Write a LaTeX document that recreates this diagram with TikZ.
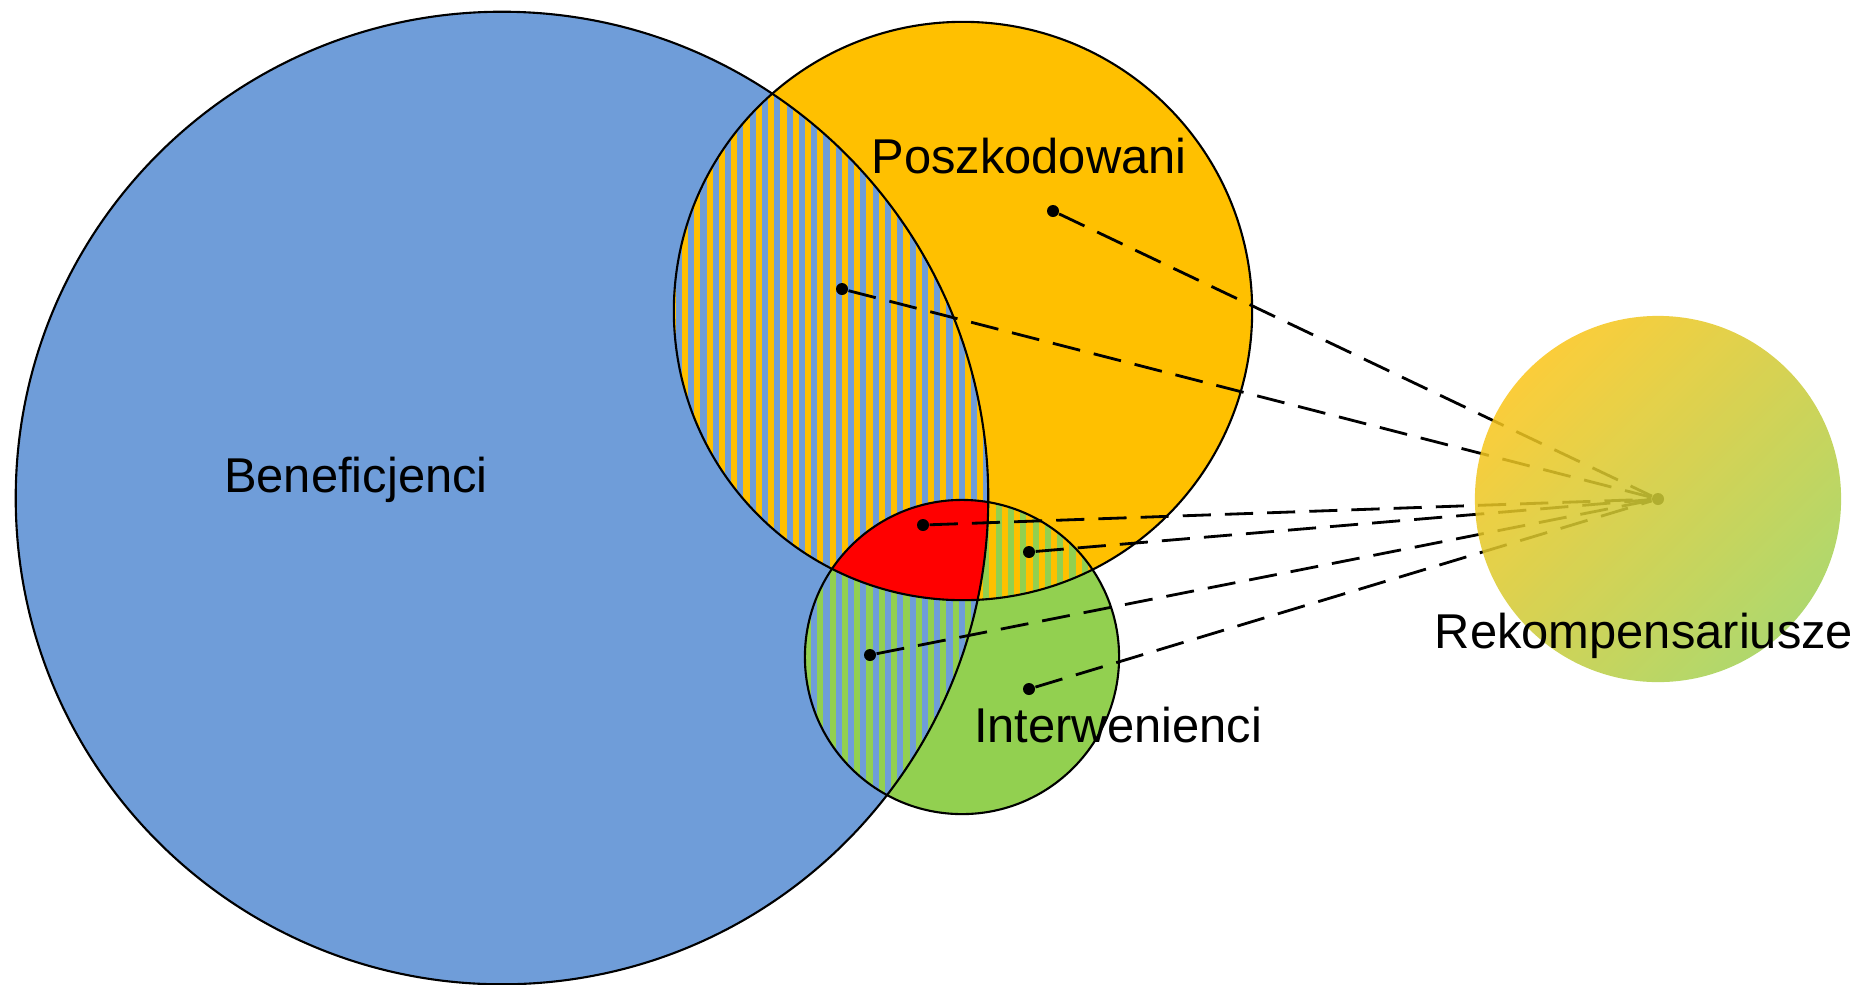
\documentclass[tikz,border=0pt]{standalone}
\usepackage{fontspec}
\setmainfont{Liberation Sans}
\definecolor{benblue}{HTML}{6F9DD9}
\definecolor{poszorange}{HTML}{FFC000}
\definecolor{intgreen}{HTML}{92D050}
\definecolor{rekyellow}{HTML}{FAC51A}
\definecolor{rekgreen}{HTML}{A2D155}
\tikzset{setline/.style={ % Outline of every set
            draw=black,
            line width=0.6pt},
        dot/.style={ % A member of one region
            circle,
            fill=black,
            inner sep=0pt,
            minimum size=0.12cm},
        link/.style={ % Dashed connection to the Rekompensariusze
            draw,
            line width=0.8pt,
            dash pattern=on 8pt off 4pt},
        rekfill/.style={ % Faded gradient disc
            top color=rekyellow,
            bottom color=rekgreen,
            shading angle=45,
            opacity=0.86},
        setname/.style={ % Name of a set
            inner sep=0pt,
            font=\fontsize{13.9}{16}\selectfont}
        }

\begin{document}
\begin{tikzpicture}[x=0.01cm, y=-0.01cm]
    \useasboundingbox (0,0) rectangle (1863,984);
    \def\rben{4.86cm}
    \def\rposz{2.89cm}
    \def\rint{1.57cm}
    \def\rrek{1.83cm}
    \coordinate (ben) at (502,498);
    \coordinate (posz) at (963,311);
    \coordinate (int) at (962,657);
    \coordinate (rekc) at (1658,499);

    % plain regions
    \fill[benblue] (ben) circle[radius=\rben];
    \fill[poszorange] (posz) circle[radius=\rposz];
    \fill[intgreen] (int) circle[radius=\rint];

    % striped overlaps
    \begin{scope}
        \clip (ben) circle[radius=\rben];
        \clip (posz) circle[radius=\rposz];
        \fill[poszorange] (600,0) rectangle (1250,984);
        \foreach \x in {602,614.3,...,1250}
            \fill[benblue] (\x,0) rectangle ++(6.15,984);
    \end{scope}
    \begin{scope}
        \clip (ben) circle[radius=\rben];
        \clip (int) circle[radius=\rint];
        \fill[intgreen] (600,0) rectangle (1250,984);
        \foreach \x in {602,614.3,...,1250}
            \fill[benblue] (\x,0) rectangle ++(6.15,984);
    \end{scope}
    \begin{scope}
        \clip (posz) circle[radius=\rposz];
        \clip (int) circle[radius=\rint];
        \fill[poszorange] (600,0) rectangle (1250,984);
        \foreach \x in {602,614.3,...,1250}
            \fill[intgreen] (\x,0) rectangle ++(6.15,984);
    \end{scope}
    % all three
    \begin{scope}
        \clip (ben) circle[radius=\rben];
        \clip (posz) circle[radius=\rposz];
        \fill[red] (int) circle[radius=\rint];
    \end{scope}

    \draw[setline] (ben) circle[radius=\rben];
    \draw[setline] (posz) circle[radius=\rposz];
    \draw[setline] (int) circle[radius=\rint];

    \node[dot] (poszk) at (1053,211) {};
    \node[dot] (benposz) at (842,289) {};
    \node[dot] (wszyscy) at (923,525) {};
    \node[dot] (poszint) at (1029,552) {};
    \node[dot] (benint) at (870,655) {};
    \node[dot] (interw) at (1029,689) {};
    \node[dot] (rek) at (rekc) {};

    \draw[link] (poszk) -- (rek);
    \draw[link] (benposz) -- (rek);
    \draw[link] (wszyscy) -- (rek);
    \draw[link] (poszint) -- (rek);
    \draw[link] (benint) -- (rek);
    \draw[link] (interw) -- (rek);

    \shade[rekfill] (rekc) circle[radius=\rrek];

    \node[setname] (benlab) at (356,480) {Beneficjenci};
    \node[setname] (poszlab) at (1029,156) {Poszkodowani};
    \node[setname] (intlab) at (1118,725) {Interwenienci};
    \node[setname] (reklab) at (1644,636) {Rekompensariusze};
\end{tikzpicture}
\end{document}
